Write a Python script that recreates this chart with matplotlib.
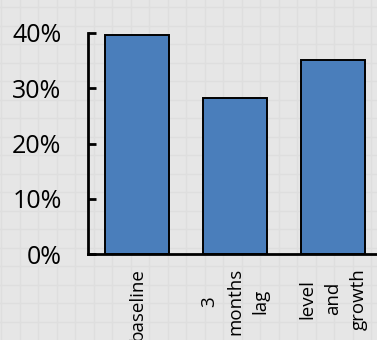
import numpy as np
import matplotlib
matplotlib.use("Agg")
import matplotlib.pyplot as plt
from matplotlib.ticker import PercentFormatter

# share of variance explained by each specification
categories = ["baseline", "3\nmonths\nlag", "level\nand\ngrowth"]
shares = [0.396, 0.282, 0.352]
y_ticks = [0.0, 0.1, 0.2, 0.3, 0.4]

plt.rcParams["font.family"] = ["Open Sans", "DejaVu Sans"]

W, H = 377, 340
fig = plt.figure(figsize=(W / 100, H / 100), dpi=100)
fig.patch.set_facecolor("#e6e6e6")

# faint squared backdrop behind the chart
bg = fig.add_axes([0, 0, 1, 1], zorder=-1)
bg.set_xlim(0, W)
bg.set_ylim(H, 0)
bg.axis("off")
for gx in np.arange(1, W, 18.5):
    bg.axvline(gx, color="#dedede", lw=1.0)
for gy in np.arange(7, H, 18.5):
    bg.axhline(gy, color="#dedede", lw=1.0)

ax = fig.add_axes([88 / W, 86 / H, 294 / W, 221 / H])
ax.patch.set_alpha(0)

x = np.arange(len(categories))
ax.bar(x, shares, width=0.66, color="#4a7ebb", edgecolor="black",
       linewidth=1.4, zorder=2)

ax.set_xlim(-0.5, len(categories) - 0.5)
ax.set_ylim(0, 0.4)
ax.set_yticks(y_ticks)
ax.yaxis.set_major_formatter(PercentFormatter(1.0, decimals=0))
ax.tick_params(axis="y", direction="in", length=6, width=2.0, pad=19,
               labelsize=18)
ax.set_xticks(x)
ax.set_xticklabels(categories, rotation=90, va="top", ha="center",
                   multialignment="center", linespacing=1.55, fontsize=13.5)
ax.tick_params(axis="x", length=0, pad=10)

for side in ("top", "right"):
    ax.spines[side].set_visible(False)
for side in ("left", "bottom"):
    ax.spines[side].set_linewidth(2.0)

fig.savefig("out.png", dpi=100, facecolor=fig.get_facecolor())
